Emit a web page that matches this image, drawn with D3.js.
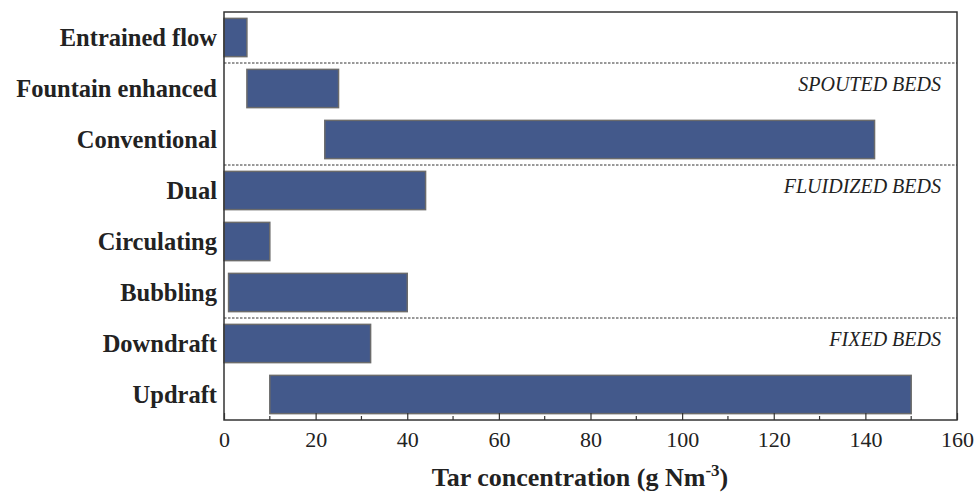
<!DOCTYPE html>
<html>
<head>
<meta charset="utf-8">
<script src="https://cdn.jsdelivr.net/npm/d3@7"></script>
<style>
  body { margin: 0; background: #fff; }
  text { font-family: "Liberation Serif", "Times New Roman", serif; }
</style>
</head>
<body>
<svg id="chart"></svg>
<script>
// Reaktorji in razponi koncentracije katrana (g Nm-3)
const reactors = ["Entrained flow", "Fountain enhanced", "Conventional", "Dual",
                  "Circulating", "Bubbling", "Downdraft", "Updraft"];
const tarMin = [0, 5, 22, 0, 0, 1, 0, 10];
const tarMax = [5, 25, 142, 44, 10, 40, 32, 150];

// Skupine reaktorjev (prvi reaktor v skupini)
const groupNames = ["SPOUTED BEDS", "FLUIDIZED BEDS", "FIXED BEDS"];
const groupStart = ["Fountain enhanced", "Dual", "Downdraft"];

const xTicks = [0, 20, 40, 60, 80, 100, 120, 140, 160];
const xMinorTicks = [10, 30, 50, 70, 90, 110, 130, 150];

const width = 975, height = 492;
const margin = { top: 12, right: 18, bottom: 72, left: 224 };

const svg = d3.select("#chart")
    .attr("width", width)
    .attr("height", height);

const x = d3.scaleLinear()
    .domain([0, 160])
    .range([margin.left, width - margin.right]);

const y = d3.scaleBand()
    .domain(reactors)
    .range([margin.top, height - margin.bottom])
    .paddingInner(0.25)
    .paddingOuter(0.125);

const barColor = "#43598b";

// Stolpci (plavajoči)
svg.append("g")
    .selectAll("rect")
    .data(reactors)
    .join("rect")
    .attr("x", (d, i) => x(tarMin[i]))
    .attr("y", d => y(d))
    .attr("width", (d, i) => x(tarMax[i]) - x(tarMin[i]))
    .attr("height", y.bandwidth())
    .attr("fill", barColor)
    .attr("stroke", "#6b6b6b")
    .attr("stroke-width", 1.5);

// Črtkane ločnice med skupinami
const step = y.step();
groupStart.forEach((name, i) => {
    const yy = y(name) - step * y.paddingInner() / 2;
    svg.append("line")
        .attr("x1", x(0))
        .attr("x2", x(160))
        .attr("y1", yy)
        .attr("y2", yy)
        .attr("stroke", "#333")
        .attr("stroke-width", 1)
        .attr("stroke-dasharray", "2.5,1.5");

    svg.append("text")
        .attr("x", x(160) - 16)
        .attr("y", yy + 28)
        .attr("text-anchor", "end")
        .attr("font-size", "20px")
        .attr("font-style", "italic")
        .attr("fill", "#222")
        .text(groupNames[i]);
});

// Okvir
svg.append("rect")
    .attr("x", x(0))
    .attr("y", margin.top)
    .attr("width", x(160) - x(0))
    .attr("height", height - margin.bottom - margin.top)
    .attr("fill", "none")
    .attr("stroke", "#333")
    .attr("stroke-width", 1.5);

// Os X
const xAxis = svg.append("g")
    .attr("transform", `translate(0,${height - margin.bottom})`)
    .call(d3.axisBottom(x).tickValues(xTicks).tickSizeInner(-7).tickSizeOuter(0).tickPadding(11));
xAxis.select(".domain").remove();
xAxis.selectAll("line").attr("stroke", "#333").attr("stroke-width", 1.2);
xAxis.selectAll("text")
    .attr("font-family", "Liberation Serif, serif")
    .attr("font-size", "22px")
    .attr("fill", "#222");

svg.append("g")
    .attr("transform", `translate(0,${height - margin.bottom})`)
    .selectAll("line")
    .data(xMinorTicks)
    .join("line")
    .attr("x1", d => x(d))
    .attr("x2", d => x(d))
    .attr("y1", 0)
    .attr("y2", -4)
    .attr("stroke", "#333")
    .attr("stroke-width", 1.2);

// Oznake kategorij
svg.append("g")
    .selectAll("text")
    .data(reactors)
    .join("text")
    .attr("x", margin.left - 7)
    .attr("y", d => y(d) + y.bandwidth() / 2)
    .attr("dy", "0.35em")
    .attr("text-anchor", "end")
    .attr("font-size", "24.5px")
    .attr("font-weight", "bold")
    .attr("fill", "#222")
    .text(d => d);

// Naslov osi X
const title = svg.append("text")
    .attr("x", 580)
    .attr("y", 486)
    .attr("text-anchor", "middle")
    .attr("font-size", "26px")
    .attr("font-weight", "bold")
    .attr("fill", "#222");
title.append("tspan").text("Tar concentration (g Nm");
title.append("tspan").attr("dy", "-10").attr("font-size", "17px").text("-3");
title.append("tspan").attr("dy", "10").text(")");
</script>
</body>
</html>
